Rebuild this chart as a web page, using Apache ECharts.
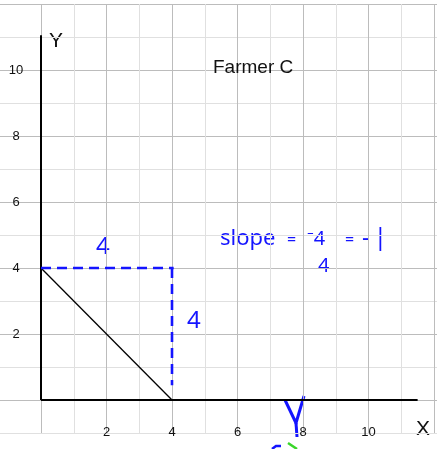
<!DOCTYPE html>
<html>
<head>
<meta charset="utf-8">
<script src="https://cdn.jsdelivr.net/npm/echarts@6/dist/echarts.min.js"></script>
<style>
  html, body { margin: 0; padding: 0; background: #fff; }
  #main { width: 437px; height: 449px; }
</style>
</head>
<body>
<div id="main"></div>
<script>
// values
var xTickLabels = [2, 4, 6, 8, 10];
var yTickLabels = [2, 4, 6, 8, 10];
var farmerC = [[0, 4], [4, 0]];
var runLine = [[0, 4], [4.05, 4]];
var riseLine = [[4, 4], [4, 0.45]];
var xAxisLine = [[0, 0], [11.5, 0]];
var yAxisLine = [[0, 0], [0, 11.05]];

var chart = echarts.init(document.getElementById('main'));
var blue = '#1414ff';
var font = 'Liberation Sans';

function blackLine(data, width) {
  return {
    type: 'line', xAxisIndex: 1, yAxisIndex: 1, data: data,
    symbol: 'none', silent: true,
    lineStyle: { color: '#000', width: width }
  };
}
function dashLine(data) {
  return {
    type: 'line', xAxisIndex: 1, yAxisIndex: 1, data: data,
    symbol: 'none', silent: true,
    lineStyle: { color: blue, width: 2.6, type: [10, 6] }
  };
}

var option = {
  backgroundColor: '#fff',
  animation: false,
  title: {
    text: 'Farmer C', left: 213, top: 58, padding: 0,
    textStyle: { fontFamily: font, fontSize: 19, fontWeight: 'normal', color: '#111' }
  },
  grid: [
    { left: 0, right: 0, top: 4, bottom: 16 },
    { left: 41, right: 0, top: 4, bottom: 16 }
  ],
  xAxis: [
    { gridIndex: 0, type: 'value', min: 0, max: 1, show: false },
    {
      gridIndex: 1, type: 'value', min: 0, max: 12, interval: 1,
      axisLine: { show: false }, axisTick: { show: false },
      splitLine: { show: true, lineStyle: { color: ['#bcbcbc', '#e0e0e0'], width: 1 } },
      axisLabel: {
        margin: -1, verticalAlign: 'middle', fontFamily: font, fontSize: 13, color: '#111',
        formatter: function (v) { return xTickLabels.indexOf(v) >= 0 ? String(v) : ''; }
      }
    }
  ],
  yAxis: [
    {
      gridIndex: 0, type: 'value', min: -1, max: 12, interval: 1,
      axisLine: { show: false }, axisTick: { show: false }, axisLabel: { show: false },
      splitLine: { show: true, lineStyle: { color: ['#e0e0e0', '#bcbcbc'], width: 1 } }
    },
    {
      gridIndex: 1, type: 'value', min: -1, max: 12, interval: 1,
      axisLine: { show: false }, axisTick: { show: false }, splitLine: { show: false },
      axisLabel: {
        margin: 25, align: 'center', fontFamily: font, fontSize: 13, color: '#111',
        formatter: function (v) { return yTickLabels.indexOf(v) >= 0 ? String(v) : ''; }
      }
    }
  ],
  series: [
    blackLine(xAxisLine, 2),
    blackLine(yAxisLine, 2),
    blackLine(farmerC, 1.3),
    dashLine(runLine),
    dashLine(riseLine)
  ],
  graphic: [
    { type: 'text', left: 49, top: 31, style: { text: 'Y', font: '21px ' + font, fill: '#111' } },
    { type: 'text', left: 416, top: 419, style: { text: 'X', font: '21px ' + font, fill: '#111' } },
    // handwritten notes
    { type: 'text', left: 96, top: 235, style: { text: '4', font: '24px "Noto Sans"', fill: blue } },
    { type: 'text', left: 187, top: 309, style: { text: '4', font: '24px "Noto Sans"', fill: blue } },
    { type: 'text', left: 220, top: 228, style: { text: 'slope', font: '22px "Noto Sans"', fill: blue } },
    { type: 'text', left: 287, top: 232, style: { text: '=', font: '16px "Noto Sans"', fill: blue } },
    { type: 'text', left: 307, top: 229, style: { text: '\u207b4', font: '20px "Noto Sans"', fill: blue } },
    { type: 'text', left: 318, top: 256, style: { text: '4', font: '20px "Noto Sans"', fill: blue } },
    { type: 'text', left: 345, top: 232, style: { text: '=', font: '16px "Noto Sans"', fill: blue } },
    { type: 'text', left: 362, top: 226, style: { text: '-\u2009|', font: '24px "Noto Sans"', fill: blue } },
    { type: 'polyline', shape: { points: [[285, 400], [296, 423], [304, 396]] }, style: { stroke: blue, lineWidth: 3, fill: null } },
    { type: 'polyline', shape: { points: [[296, 423], [297, 437]] }, style: { stroke: blue, lineWidth: 3, fill: null } },
    { type: 'polyline', shape: { points: [[272, 449], [276, 446], [281, 446]] }, style: { stroke: blue, lineWidth: 2.5, fill: null } },
    { type: 'polyline', shape: { points: [[288, 443], [297, 449]] }, style: { stroke: '#3ad62a', lineWidth: 2.5, fill: null } }
  ]
};
chart.setOption(option);
</script>
</body>
</html>
